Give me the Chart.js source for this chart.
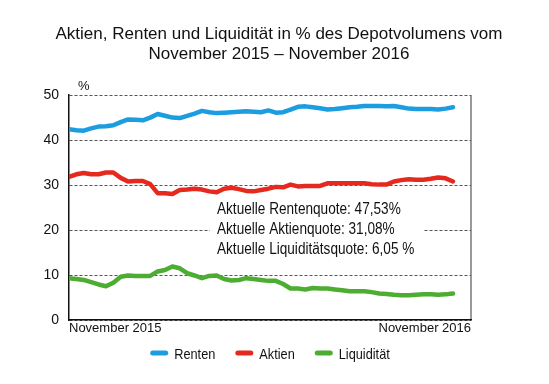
<!DOCTYPE html>
<html>
<head>
<meta charset="utf-8">
<script src="https://cdn.jsdelivr.net/npm/chart.js@4.4.1/dist/chart.umd.min.js"></script>
<style>
  body { margin: 0; background: #fff; }
  #wrap { width: 549px; height: 384px; }
</style>
</head>
<body>
<div id="wrap"><canvas id="chart" width="549" height="384"></canvas></div>
<script>
// Werte je Woche, November 2015 bis November 2016
const renten = [42.4, 42.2, 42.1, 42.6, 43.0, 43.1, 43.3, 44.0, 44.6, 44.5, 44.4, 45.0, 45.8, 45.4, 45.0, 44.9, 45.4, 45.9, 46.5, 46.2, 46.0, 46.1, 46.2, 46.3, 46.4, 46.3, 46.2, 46.6, 46.1, 46.2, 46.8, 47.4, 47.5, 47.3, 47.1, 46.8, 46.9, 47.1, 47.3, 47.4, 47.6, 47.6, 47.6, 47.5, 47.6, 47.3, 47.0, 46.9, 46.9, 46.9, 46.8, 47.0, 47.3];
const aktien = [31.8, 32.4, 32.7, 32.4, 32.4, 32.8, 32.8, 31.6, 30.8, 30.9, 30.9, 30.2, 28.2, 28.2, 28.0, 28.9, 29.0, 29.2, 29.0, 28.6, 28.4, 29.2, 29.4, 29.1, 28.7, 28.6, 28.9, 29.2, 29.6, 29.5, 30.1, 29.7, 29.8, 29.8, 29.8, 30.4, 30.4, 30.4, 30.4, 30.4, 30.4, 30.2, 30.1, 30.1, 30.8, 31.1, 31.3, 31.2, 31.2, 31.4, 31.7, 31.5, 30.8];
const liquiditaet = [9.3, 9.1, 8.9, 8.4, 7.9, 7.5, 8.3, 9.6, 9.9, 9.8, 9.8, 9.8, 10.8, 11.1, 11.9, 11.5, 10.4, 9.9, 9.3, 9.8, 9.9, 9.1, 8.8, 8.9, 9.3, 9.1, 8.9, 8.7, 8.7, 8.0, 7.0, 7.0, 6.8, 7.1, 7.0, 7.0, 6.8, 6.6, 6.4, 6.4, 6.4, 6.2, 5.9, 5.8, 5.6, 5.5, 5.5, 5.6, 5.7, 5.7, 5.6, 5.7, 5.9];

const seriesNames = ['Renten', 'Aktien', 'Liquidität'];
const seriesColors = ['#1c9de0', '#e5291f', '#4dac32'];
const xLabels = ['November 2015', 'November 2016'];
const yTicks = [0, 10, 20, 30, 40, 50];
const infoLines = [
  'Aktuelle Rentenquote: 47,53%',
  'Aktuelle Aktienquote: 31,08%',
  'Aktuelle Liquiditätsquote: 6,05 %'
];

const sans = "'Liberation Sans', Arial, sans-serif";
const xMax = 54.44; // Platz rechts neben der letzten Woche
const narrowScale = 0.85; // schmale Schrift wie im Original

function toPoints(values) {
  return values.map((v, i) => ({ x: i, y: v }));
}

function narrowText(ctx, text, x, y) {
  ctx.save();
  ctx.translate(x, y);
  ctx.scale(narrowScale, 1);
  ctx.fillText(text, 0, 0);
  ctx.restore();
}

// Infotext mit weißem Hintergrund, "%" über der Achse und Legende unten
const infoPlugin = {
  id: 'infoText',
  afterDatasetsDraw(chart) {
    const { ctx } = chart;
    const y = chart.scales.y;
    ctx.save();
    ctx.fillStyle = '#fff';
    ctx.fillRect(210, y.getPixelForValue(25) - 4, 213, 60);
    ctx.fillStyle = '#111';
    ctx.font = '16px ' + sans;
    ctx.textBaseline = 'alphabetic';
    infoLines.forEach((line, i) => narrowText(ctx, line, 217, 214 + i * 20));

    ctx.font = '13px ' + sans;
    ctx.fillText('%', 78, 90);

    // Legende
    ctx.font = '15px ' + sans;
    const gap = 20;
    const widths = seriesNames.map((n) => ctx.measureText(n).width * narrowScale);
    const total = widths.reduce((a, w) => a + 18 + 6 + w, 0) + 2 * gap;
    let lx = 270 - total / 2;
    const ly = 353;
    seriesNames.forEach((name, i) => {
      ctx.strokeStyle = seriesColors[i];
      ctx.lineWidth = 5;
      ctx.lineCap = 'round';
      ctx.beginPath();
      ctx.moveTo(lx + 2.5, ly);
      ctx.lineTo(lx + 15.5, ly);
      ctx.stroke();
      narrowText(ctx, name, lx + 24, ly + 5.5);
      lx += 18 + 6 + widths[i] + gap;
    });
    ctx.restore();
  }
};

const chart = new Chart(document.getElementById('chart'), {
  type: 'line',
  data: {
    datasets: [renten, aktien, liquiditaet].map((values, i) => ({
      label: seriesNames[i],
      data: toPoints(values),
      borderColor: seriesColors[i],
      backgroundColor: seriesColors[i],
      borderWidth: 4.5,
      pointRadius: 0,
      tension: 0,
      borderJoinStyle: 'round',
      borderCapStyle: 'round'
    }))
  },
  options: {
    responsive: false,
    animation: false,
    layout: { padding: { left: 9, right: 0, bottom: 44 } },
    plugins: {
      title: {
        display: true,
        text: ['Aktien, Renten und Liquidität in % des Depotvolumens vom', 'November 2015 – November 2016'],
        color: '#111',
        font: { family: sans, size: 17, weight: 'normal', lineHeight: 1.18 },
        padding: { top: 24, bottom: 31 }
      },
      legend: { display: false },
      tooltip: { enabled: false }
    },
    scales: {
      x: {
        type: 'linear',
        min: 0,
        max: xMax,
        afterBuildTicks: (scale) => {
          scale.ticks = [{ value: 0 }, { value: xMax }];
        },
        afterFit: (scale) => { scale.height = 20; },
        ticks: {
          align: 'inner',
          maxRotation: 0,
          autoSkip: false,
          padding: 1,
          color: '#111',
          font: { family: sans, size: 13 },
          callback: (value) => (value === 0 ? xLabels[0] : xLabels[1])
        },
        grid: {
          drawTicks: false,
          lineWidth: 2,
          color: (ctx) => (ctx.tick && ctx.tick.value === xMax ? '#9a9a9a' : 'rgba(0,0,0,0)')
        },
        border: { color: '#111', width: 1.5 }
      },
      y: {
        min: 0,
        max: 50,
        afterBuildTicks: (scale) => {
          scale.ticks = yTicks.map((v) => ({ value: v }));
        },
        afterFit: (scale) => { scale.width = 60; },
        ticks: {
          padding: 10,
          color: '#111',
          font: { family: sans, size: 14 }
        },
        grid: {
          drawTicks: false,
          color: '#555',
          lineWidth: 1
        },
        border: { color: '#111', width: 1.5, dash: [3, 2] }
      },
      // leere rechte Achse, damit der Titel über die ganze Breite zentriert ist
      yRight: {
        position: 'right',
        min: 0,
        max: 50,
        afterFit: (scale) => { scale.width = 78; },
        ticks: { display: false },
        grid: { display: false },
        border: { display: false }
      }
    }
  },
  plugins: [infoPlugin]
});
</script>
</body>
</html>
